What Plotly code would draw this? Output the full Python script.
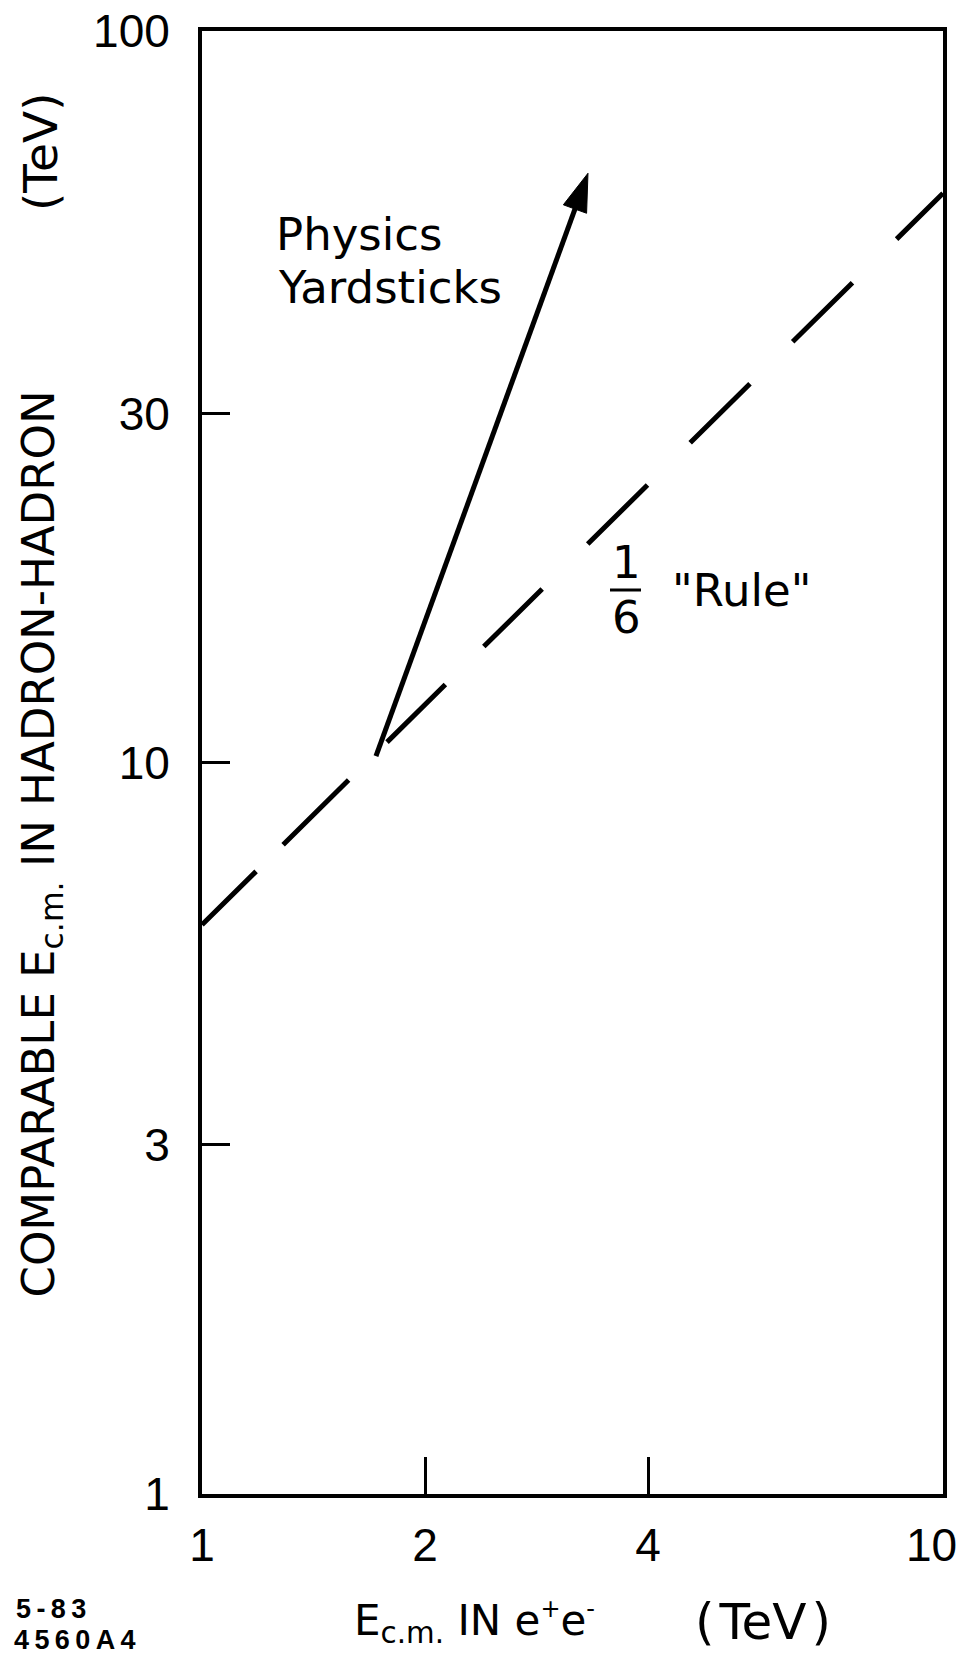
import plotly.graph_objects as go

# ---- data ----
rule_ee = [1, 10]            # E_cm in e+e- (TeV)
rule_hh = [6, 60]            # comparable E_cm in hadron-hadron (TeV), "1/6 rule"
yard_ee = [1.717, 3.318]     # physics yardsticks arrow (start, tip)
yard_hh = [10.2, 63.9]
x_tickvals = [1, 2, 4, 10]
x_ticktext = ["1", "2", "4", "10\u2002"]
y_tickvals = [1, 3, 10, 30, 100]
y_ticktext = ["1", "3", "10", "30", "100"]

# page geometry (the page body has an 8px margin)
BODY = 8
PL, PR, PT, PB = 202, 943, 31, 1494      # plot area in page pixels
W, H = 971 - 2 * BODY, 1666 - 2 * BODY
L, T = PL - BODY, PT - BODY
R = W - (PR - BODY)
B = H - (PB - BODY)
PW, PH = PR - PL, PB - PT


def px2x(px):
    return (px - PL) / PW


def py2y(py):
    return (PB - py) / PH


TXT = "DejaVu Sans"
NUM = "Liberation Sans"

fig = go.Figure()

fig.add_trace(go.Scatter(
    x=rule_ee, y=rule_hh, mode="lines",
    line=dict(color="black", width=5,
              dash="76px,38px,92px,54px,82px,54px,82px,64px,84px,60px,84px,60px,84px,62px,140px"),
    showlegend=False, hoverinfo="skip"))

fig.add_trace(go.Scatter(
    x=yard_ee, y=yard_hh, mode="lines+markers",
    line=dict(color="black", width=5),
    marker=dict(symbol="arrow", size=[0, 40], angleref="previous", opacity=1,
                color="black", line=dict(width=1, color="black")),
    showlegend=False, hoverinfo="skip"))

axis_common = dict(
    type="log", showgrid=False, zeroline=False, automargin=False,
    showline=True, linewidth=4, linecolor="black", mirror=True,
    ticks="inside", tickwidth=2.5, tickcolor="black",
    ticklabeloverflow="allow",
    tickfont=dict(family=NUM, size=46, color="black"),
)

fig.update_xaxes(range=[0, 1], tickvals=x_tickvals, ticktext=x_ticktext,
                 ticklen=37, ticklabelstandoff=8, **axis_common)
fig.update_yaxes(range=[0, 2], tickvals=y_tickvals, ticktext=y_ticktext,
                 ticklen=28, ticklabelstandoff=19, **axis_common)

ann = []


def text(s, px, py, size=45, family=TXT, xanchor="left", yanchor="middle", angle=0, bold=False):
    ann.append(dict(text=("<b>%s</b>" % s) if bold else s, x=px2x(px), y=py2y(py),
                    xref="paper", yref="paper", showarrow=False,
                    xanchor=xanchor, yanchor=yanchor, textangle=angle,
                    font=dict(family=family, size=size, color="black")))


small = "<span style='font-size:24px'>%s</span>"
ts = "\u200a"
thin = "\u2009"
text("Physics", 274, 235)
text("Yardsticks", 276, 287)
text("1", 626, 562, xanchor="center")
text("6", 626, 618, xanchor="center")
text('"Rule"', 670, 590)
text("E<sub>c.m.</sub> IN e<sup>" + small % "+" + "</sup>e<sup>" + small % "-" + "</sup>",
     352, 1622, size=42)
text("(" + ts + "TeV" + ts + ")", 763, 1622, size=50, xanchor="center")
text("COMPARABLE E<sub>c.m.</sub> IN HADRON-HADRON", 40, 1300,
     xanchor="center", yanchor="bottom", angle=-90)
text("(TeV)", 40, 152, size=47, xanchor="center", angle=-90)
text(thin.join("5-83"), 14, 1609, size=27, family=NUM, bold=True)
text(thin.join("4560A4"), 12, 1640, size=27, family=NUM, bold=True)

fig.update_layout(
    width=W, height=H, margin=dict(l=L, r=R, t=T, b=B, pad=0, autoexpand=False),
    paper_bgcolor="white", plot_bgcolor="white", showlegend=False,
    annotations=ann,
    shapes=[dict(type="line", xref="paper", yref="paper",
                 x0=px2x(610), x1=px2x(641), y0=py2y(590), y1=py2y(590),
                 line=dict(color="black", width=3))],
)

fig.write_html("out.html")
